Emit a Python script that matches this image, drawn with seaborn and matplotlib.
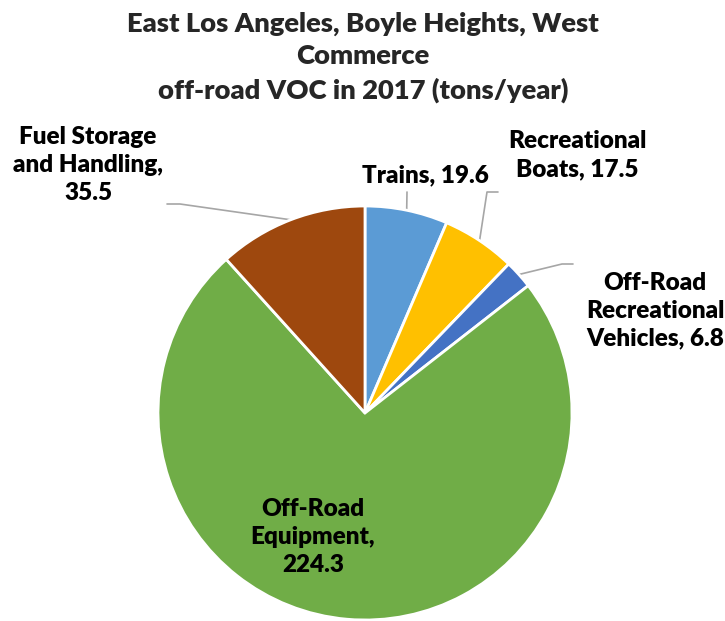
import numpy as np
import matplotlib
matplotlib.use("Agg")
import matplotlib.pyplot as plt
import seaborn as sns

# ── Data ──
categories = ["Trains", "Recreational\nBoats", "Off-Road\nRecreational\nVehicles",
              "Off-Road\nEquipment", "Fuel Storage\nand Handling"]
values = [19.6, 17.5, 6.8, 224.3, 35.5]
value_sep = [", ", ", ", ", ", ",\n", ",\n"]
colors = ["#5B9BD5", "#FFC000", "#4472C4", "#70AD47", "#9E480E"]
title = "East Los Angeles, Boyle Heights, West\nCommerce\noff-road VOC in 2017 (tons/year)"

sns.set_theme(style="white")
plt.rcParams['font.family'] = ['Lato', 'DejaVu Sans']

W, H = 725, 621
fig = plt.figure(figsize=(W / 100, H / 100), dpi=100)

# pie centre and radius in pixels
cx, cy, R = 365, 413, 207
ax = fig.add_axes([(cx - R) / W, (H - cy - R) / H, 2 * R / W, 2 * R / H])
wedges, _ = ax.pie(values, colors=sns.color_palette(colors), startangle=90,
                   counterclock=False, radius=1,
                   wedgeprops=dict(edgecolor="white", linewidth=2))
ax.set_xlim(-1, 1)
ax.set_ylim(-1, 1)
ax.set_aspect("equal")
ax.axis("off")


def px(x, y):
    # pixel -> data coords of the pie axes
    return (x - cx) / R, (cy - y) / R


# label text position (px) and leader-line path (px), None = label inside
label_pos = [(425, 175), (577, 155), (655, 311), (313, 537), (88, 165)]
leader = [[(407, 192)], [(498, 192), (487, 192)], [(573, 264), (562, 264)],
          None, [(167, 204), (180, 204)]]

for w, cat, sep, val, (lx, ly), path in zip(wedges, categories, value_sep, values,
                                            label_pos, leader):
    ang = np.deg2rad((w.theta1 + w.theta2) / 2)
    tx, ty = px(lx, ly)
    ax.text(tx, ty, f"{cat}{sep}{val}", ha="center", va="center",
            fontsize=17.5, fontweight="heavy", color="black", linespacing=1.32,
            clip_on=False)
    if path is not None:
        pts = [px(*p) for p in path] + [(np.cos(ang), np.sin(ang))]
        xs, ys = zip(*pts)
        ax.plot(xs, ys, color="#A6A6A6", lw=1.2, clip_on=False, zorder=0)

fig.text(363 / W, 1 - 57 / H, title, ha="center", va="center",
         fontsize=19.7, fontweight="heavy", linespacing=1.43)

fig.savefig("out.png", dpi=100)
